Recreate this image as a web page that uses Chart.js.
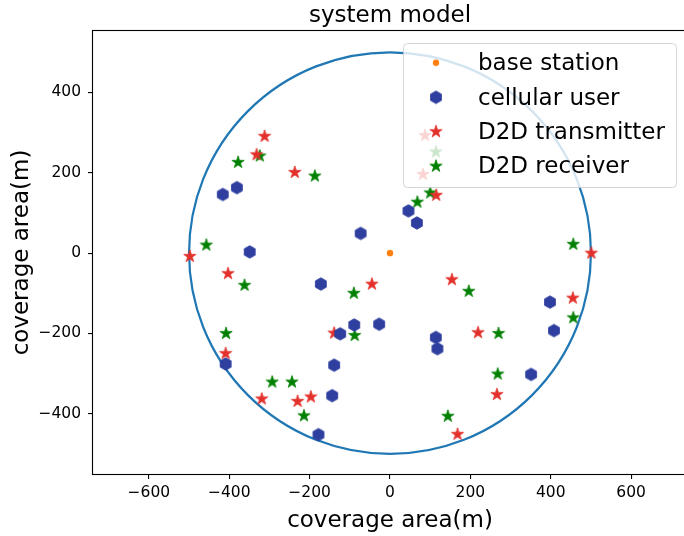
<!DOCTYPE html>
<html>
<head>
<meta charset="utf-8">
<script src="https://cdn.jsdelivr.net/npm/chart.js@4/dist/chart.umd.min.js"></script>
<style>
  html, body { margin: 0; padding: 0; background: #fff; overflow: hidden; }
  #wrap { width: 684px; height: 536px; overflow: hidden; position: relative; }
  canvas { display: block; }
</style>
</head>
<body>
<div id="wrap"><canvas id="c" width="694" height="536" style="width:694px;height:536px"></canvas></div>
<script>
// ---------------- data ----------------
const TITLE = 'system model';
const X_LABEL = 'coverage area(m)';
const Y_LABEL = 'coverage area(m)';
const X_TICKS = [-600, -400, -200, 0, 200, 400, 600];
const Y_TICKS = [-400, -200, 0, 200, 400];
const X_RANGE = [-739, 739];
const Y_RANGE = [-550, 553];
const CIRCLE_RADIUS = 500;

const SERIES_LABELS = ['base station', 'cellular user', 'D2D transmitter', 'D2D receiver'];

const BS_X = [0];
const BS_Y = [0];

const CELL_X = [-416, -381, -349, -73, 46, 67, -172, -124, -89, -27, -409, -139, -144, -178, 114, 118, 398, 408, 351];
const CELL_Y = [146, 163, 3, 49, 105, 75, -77, -201, -179, -177, -276, -279, -355, -452, -210, -238, -122, -193, -302];

const TX_X = [-312, -332, -237, -498, -403, -45, 87, 82, 115, 501, 154, 455, 219, 266, 168, -139, -409, -319, -230, -197];
const TX_Y = [292, 246, 202, -7, -50, -76, 294, 197, 145, 1, -65, -111, -197, -351, -450, -198, -249, -362, -368, -357];

const RX_X = [-324, -378, -187, -457, -362, -90, 68, 100, 114, 456, 196, 456, 270, 268, 144, -88, -408, -293, -244, -214];
const RX_Y = [243, 227, 193, 21, -79, -99, 128, 151, 253, 23, -94, -160, -199, -300, -405, -204, -199, -320, -320, -404];

// ---------------- styles ----------------
const FONT = 'DejaVu Sans';
const C_BS = '#ff7f0e';
const C_CELL = '#2e3f9f';
const C_TX = '#e3302b';
const C_RX = '#008000';
const C_CIRCLE = '#1f77b4';

function zip(xs, ys) { return xs.map((x, i) => ({ x: x, y: ys[i] })); }

function makeHex(color) {
  const cv = document.createElement('canvas');
  cv.width = 16; cv.height = 16;
  const g = cv.getContext('2d');
  const R = 6.3;
  g.beginPath();
  for (let k = 0; k < 6; k++) {
    const a = (-90 + k * 60) * Math.PI / 180;
    const px = 8 + R * Math.cos(a), py = 8 + R * Math.sin(a);
    if (k === 0) g.moveTo(px, py); else g.lineTo(px, py);
  }
  g.closePath();
  g.fillStyle = color; g.fill();
  g.lineWidth = 0.8; g.strokeStyle = color; g.stroke();
  return cv;
}
function makeStar(color) {
  const cv = document.createElement('canvas');
  cv.width = 16; cv.height = 16;
  const g = cv.getContext('2d');
  const R = 6.5, r = R * 0.381966;
  g.beginPath();
  for (let k = 0; k < 10; k++) {
    const a = (-90 + k * 36) * Math.PI / 180;
    const rr = (k % 2 === 0) ? R : r;
    const px = 8 + rr * Math.cos(a), py = 8.4 + rr * Math.sin(a);
    if (k === 0) g.moveTo(px, py); else g.lineTo(px, py);
  }
  g.closePath();
  g.fillStyle = color; g.fill();
  g.lineWidth = 0.8; g.strokeStyle = color; g.lineJoin = 'miter'; g.stroke();
  return cv;
}
function makeDot(color) {
  const cv = document.createElement('canvas');
  cv.width = 8; cv.height = 8;
  const g = cv.getContext('2d');
  g.beginPath(); g.arc(4, 4, 3.2, 0, Math.PI * 2);
  g.fillStyle = color; g.fill();
  return cv;
}

const IMG_BS = makeDot(C_BS);
const IMG_CELL = makeHex(C_CELL);
const IMG_TX = makeStar(C_TX);
const IMG_RX = makeStar(C_RX);
const MARKERS = [IMG_BS, IMG_CELL, IMG_TX, IMG_RX];

const circlePlugin = {
  id: 'circlePlugin',
  beforeDatasetsDraw(chart) {
    const { ctx, scales: { x, y } } = chart;
    const cx = x.getPixelForValue(0), cy = y.getPixelForValue(0);
    const rx = x.getPixelForValue(CIRCLE_RADIUS) - cx;
    const ry = cy - y.getPixelForValue(CIRCLE_RADIUS);
    ctx.save();
    ctx.beginPath();
    ctx.ellipse(cx, cy, rx, ry, 0, 0, Math.PI * 2);
    ctx.strokeStyle = C_CIRCLE;
    ctx.lineWidth = 2.2;
    ctx.stroke();
    ctx.restore();
  }
};

const framePlugin = {
  id: 'framePlugin',
  afterDatasetsDraw(chart) {
    const { ctx, chartArea: a } = chart;
    ctx.save();
    ctx.strokeStyle = '#000';
    ctx.lineWidth = 1.1;
    ctx.strokeRect(a.left - 0.5, a.top - 0.5, a.right - a.left + 1, a.bottom - a.top + 1);
    ctx.restore();
  }
};

const legendPlugin = {
  id: 'boxLegend',
  afterDraw(chart) {
    const { ctx } = chart;
    const bx = 403.5, by = 43.5, bw = 273, bh = 144, br = 4;
    ctx.save();
    ctx.beginPath();
    ctx.roundRect(bx, by, bw, bh, br);
    ctx.fillStyle = 'rgba(255,255,255,0.8)';
    ctx.fill();
    ctx.strokeStyle = 'rgba(204,204,204,0.8)';
    ctx.lineWidth = 1;
    ctx.stroke();
    const rows = [62.7, 97.3, 131.2, 165.7];
    chart.data.datasets.forEach((ds, i) => {
      const img = MARKERS[i];
      ctx.drawImage(img, 436 - img.width / 2, rows[i] - img.height / 2);
      ctx.fillStyle = '#000';
      ctx.font = '23px "' + FONT + '"';
      ctx.textAlign = 'left';
      ctx.textBaseline = 'alphabetic';
      ctx.fillText(ds.label, 478, rows[i] + 7.7);
    });
    ctx.restore();
  }
};

const fmt = v => String(v).replace('-', '\u2212');

const tickFont = { family: FONT, size: 15.5 };
const titleFont = { family: FONT, size: 23, weight: 'normal' };

new Chart(document.getElementById('c'), {
  type: 'scatter',
  data: {
    datasets: [
      { label: SERIES_LABELS[0], data: zip(BS_X, BS_Y), pointStyle: IMG_BS, radius: 4, hoverRadius: 4 },
      { label: SERIES_LABELS[1], data: zip(CELL_X, CELL_Y), pointStyle: IMG_CELL, radius: 6, hoverRadius: 6 },
      { label: SERIES_LABELS[2], data: zip(TX_X, TX_Y), pointStyle: IMG_TX, radius: 6, hoverRadius: 6 },
      { label: SERIES_LABELS[3], data: zip(RX_X, RX_Y), pointStyle: IMG_RX, radius: 6, hoverRadius: 6 }
    ]
  },
  options: {
    responsive: false,
    animation: false,
    devicePixelRatio: 1,
    layout: { padding: { left: 0, right: 1, top: 0, bottom: 0 } },
    plugins: {
      legend: { display: false },
      tooltip: { enabled: false },
      title: {
        display: true, text: TITLE, fullSize: false, color: '#000',
        font: titleFont, padding: { top: 2, bottom: 1.4 }
      }
    },
    scales: {
      x: {
        type: 'linear', min: X_RANGE[0], max: X_RANGE[1],
        afterBuildTicks: s => { s.ticks = X_TICKS.map(v => ({ value: v })); },
        afterFit: s => { s.height = 62; },
        ticks: { callback: v => fmt(v), font: tickFont, color: '#000', padding: 5, maxRotation: 0, autoSkip: false },
        grid: { display: true, drawOnChartArea: false, drawTicks: true, tickLength: 5, color: '#000', lineWidth: 1.1 },
        border: { display: false },
        title: { display: true, text: X_LABEL, font: titleFont, color: '#000', padding: { top: 0, bottom: 1.2 } }
      },
      y: {
        type: 'linear', min: Y_RANGE[0], max: Y_RANGE[1],
        afterBuildTicks: s => { s.ticks = Y_TICKS.map(v => ({ value: v })); },
        afterFit: s => { s.width = 93; },
        ticks: { callback: v => fmt(v), font: tickFont, color: '#000', padding: 7, autoSkip: false },
        grid: { display: true, drawOnChartArea: false, drawTicks: true, tickLength: 5, color: '#000', lineWidth: 1.1 },
        border: { display: false },
        title: { display: true, text: Y_LABEL, font: titleFont, color: '#000', padding: { top: 8, bottom: 0 } }
      }
    }
  },
  plugins: [circlePlugin, framePlugin, legendPlugin]
});
</script>
</body>
</html>
